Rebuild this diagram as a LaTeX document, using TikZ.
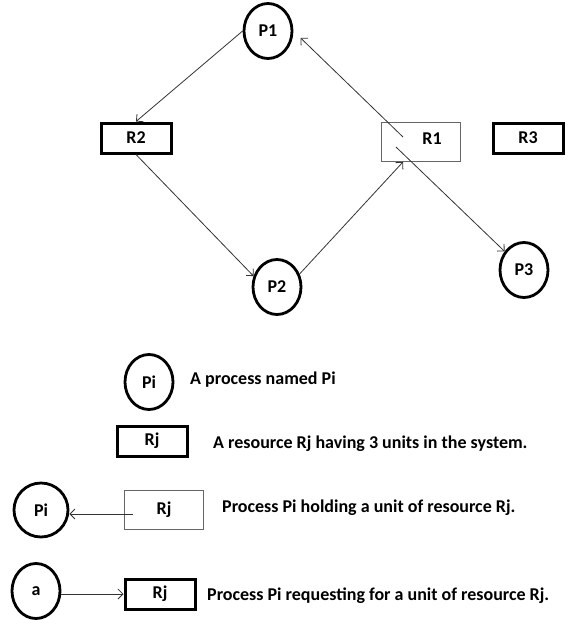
\documentclass[tikz,border=0pt]{standalone}
\usepackage{fontspec}
\setmainfont{Carlito}
\usetikzlibrary{shapes.geometric,arrows.meta}
\definecolor{edgegray}{HTML}{333333}
\definecolor{boxgray}{HTML}{666666}

\begin{document}
\begin{tikzpicture}[x=1pt,y=-1pt,
    font=\bfseries\fontsize{18}{20}\selectfont,
    >={Straight Barb[length=5pt,width=10pt]},
    proc/.style={draw,ellipse,line width=2.8pt,minimum width=48pt,minimum height=55pt,inner sep=0pt},
    res/.style={draw,rectangle,line width=3pt,minimum width=70pt,minimum height=30pt,inner sep=0pt},
    held/.style={draw=boxgray,rectangle,line width=0.9pt,minimum width=79pt,minimum height=39pt,inner sep=0pt},
    link/.style={draw=edgegray,line width=0.8pt},
    note/.style={anchor=base west,inner sep=0pt}]
  \useasboundingbox (0,0) rectangle (571,629);
  % allocation graph
  \node[proc] (P1) at (268,31) {P1};
  \node[res] (R2) at (136,138) {R2};
  \node[proc] (P2) at (277,287) {P2};
  \node[held,label={[xshift=11pt,yshift=3.5pt]center:R1}] (R1) at (421,142) {};
  \node[res] (R3) at (528,138) {R3};
  \node[proc] (P3) at (524,270) {P3};
  \coordinate (R1in) at (403,137);
  \coordinate (R1out) at (396,147);
  % legend
  \node[proc] (Pi) at (149,382) {Pi};
  \node[note] (procnote) at (190,384) {A process named Pi};
  \node[res] (Rj) at (152,441) {Rj};
  \node[note] (resnote) at (213,448) {A resource Rj having 3 units in the system.};
  \node[proc,minimum width=54pt,minimum height=54pt] (Ph) at (41,510) {Pi};
  \node[held] (Rh) at (164,510) {Rj};
  \coordinate (Rhin) at (133,514);
  \node[note] (holdnote) at (222,512) {Process Pi holding a unit of resource Rj.};
  \node[proc] (Pa) at (36,591) {a};
  \node[res] (Rr) at (160,594) {Rj};
  \node[note] (reqnote) at (207,600) {Process Pi requesting for a unit of resource Rj.};
  \path[->]
    (P1.west) edge[link] (R2.north)
    (R2.south) edge[link] (P2.155)
    (P2.30) edge[link] ([xshift=-18pt]R1.south)
    (R1in) edge[link,shorten >=10pt] (P1.east)
    (R1out) edge[link] (P3)
    (Rhin) edge[link] (Ph.east |- Rhin)
    (Pa.east |- Rr) edge[link] (Rr)
    ;
\end{tikzpicture}
\end{document}
